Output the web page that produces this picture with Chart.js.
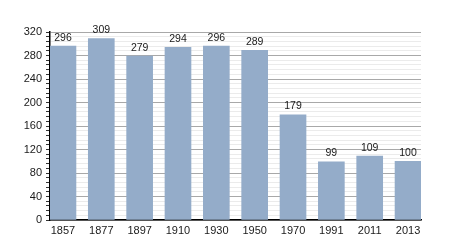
<!DOCTYPE html>
<html>
<head>
<meta charset="utf-8">
<script src="https://cdn.jsdelivr.net/npm/chart.js@4/dist/chart.umd.min.js"></script>
<style>
  html, body { margin: 0; padding: 0; background: #fff; }
  #wrap { width: 450px; height: 250px; }
</style>
</head>
<body>
<div id="wrap"><canvas id="c"></canvas></div>
<script>
// years on the x axis and the population value for each
var years = ['1857', '1877', '1897', '1910', '1930', '1950', '1970', '1991', '2011', '2013'];
var population = [296, 309, 279, 294, 296, 289, 179, 99, 109, 100];
var yTicks = [0, 40, 80, 120, 160, 200, 240, 280, 320];

var points = population.map(function (v, i) { return { x: i, y: v }; });

// value above each bar
var valueLabels = {
    id: 'valueLabels',
    afterDatasetsDraw: function (chart) {
        var ctx = chart.ctx;
        var meta = chart.getDatasetMeta(0);
        ctx.save();
        ctx.font = '10.5px "Liberation Sans", Arial, sans-serif';
        ctx.fillStyle = '#1a1a1a';
        ctx.textAlign = 'center';
        ctx.textBaseline = 'bottom';
        meta.data.forEach(function (bar, i) {
            ctx.fillText(population[i], bar.x, bar.y - 3);
        });
        ctx.restore();
    }
};

var ctx = document.getElementById('c').getContext('2d');

var chart = new Chart(ctx, {
    type: 'bar',
    data: {
        datasets: [{
            label: 'Population',
            data: points,
            backgroundColor: 'rgb(148, 172, 201)',
            borderWidth: 0,
            barThickness: 26
        }]
    },
    options: {
        responsive: true,
        maintainAspectRatio: false,
        animation: false,
        layout: { padding: { left: 0, right: 29, top: 32, bottom: 0 } },
        plugins: {
            legend: { display: false },
            tooltip: { enabled: false }
        },
        scales: {
            x: {
                type: 'linear',
                offset: false,
                min: -0.338,
                max: 9.338,
                grid: { display: false, drawTicks: false, offset: false },
                border: { display: true, color: '#000', width: 1.5 },
                ticks: {
                    stepSize: 1,
                    includeBounds: false,
                    padding: 4,
                    color: '#1a1a1a',
                    font: { family: '"Liberation Sans", Arial, sans-serif', size: 11 },
                    callback: function (v) { return years[v] !== undefined ? years[v] : ''; }
                },
                afterFit: function (s) { s.height = 30; }
            },
            y: {
                min: 0,
                max: 320,
                grid: {
                    color: function (c) { return yTicks.indexOf(c.tick.value) >= 0 ? '#a8a8a8' : '#ebebeb'; },
                    tickColor: '#333',
                    tickLength: 4
                },
                border: { display: true, color: '#000', width: 1.5 },
                ticks: {
                    stepSize: 8,
                    autoSkip: false,
                    padding: 4,
                    color: '#1a1a1a',
                    font: { family: '"Liberation Sans", Arial, sans-serif', size: 11 },
                    callback: function (v) { return yTicks.indexOf(v) >= 0 ? v : ''; }
                },
                afterFit: function (s) { s.width = 50; }
            }
        }
    },
    plugins: [valueLabels]
});
</script>
</body>
</html>
